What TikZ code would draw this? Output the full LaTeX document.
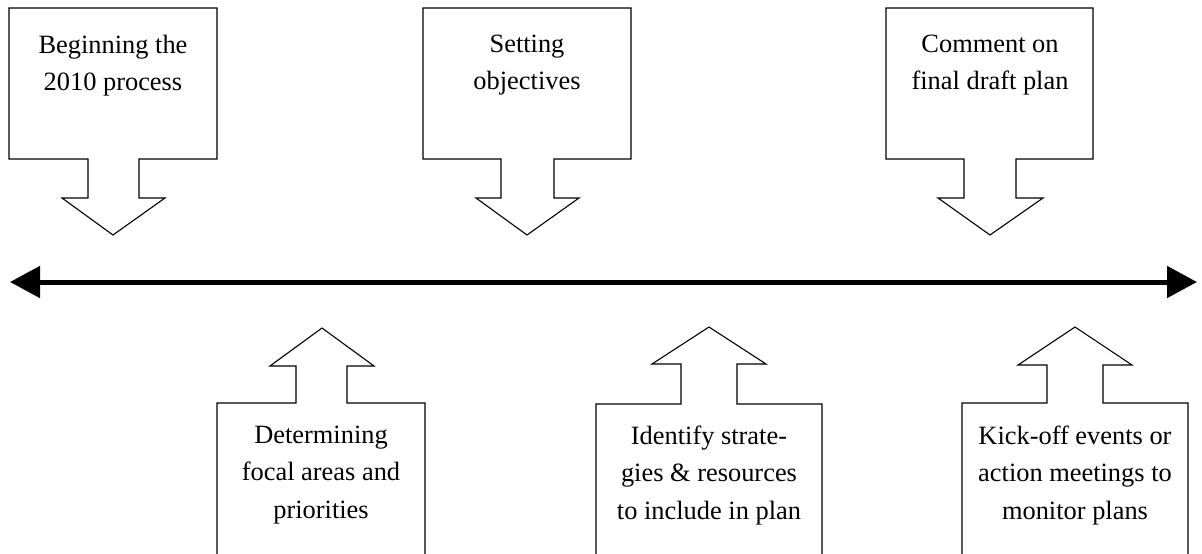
\documentclass[tikz,border=0pt]{standalone}
\usepackage{fontspec}
\setmainfont{Liberation Serif}
\usetikzlibrary{arrows.meta}
\tikzset{
  callout/.style={draw=black, line width=1.1pt, fill=white, line join=miter},
  label/.style={align=center, inner sep=0pt, anchor=north, font=\fontsize{26.4}{37.2}\selectfont},
  axis/.style={line width=5pt, {Triangle[length=30pt,width=31pt]}-{Triangle[length=30pt,width=31pt]}}
}
\begin{document}
\begin{tikzpicture}[x=1pt,y=-1pt]
\useasboundingbox (0,0) rectangle (1202,554);
\clip (0,0) rectangle (1202,554);
% main time line
\coordinate (L) at (10,282);
\coordinate (R) at (1197,282);
\draw[axis] (L) -- (R);
% top callouts
\draw[callout] (9,8) -- (217,8) -- (217,159) -- (139,159) -- (139,198) -- (165,198) -- (113,235) -- (62,198) -- (88,198) -- (88,159) -- (9,159) -- cycle;
\draw[callout] (423,8) -- (631,8) -- (631,159) -- (554,159) -- (554,198) -- (579,198) -- (527,235) -- (476,198) -- (501,198) -- (501,159) -- (423,159) -- cycle;
\draw[callout] (886,8) -- (1093,8) -- (1093,159) -- (1016,159) -- (1016,198) -- (1043,198) -- (990,235) -- (938,198) -- (964,198) -- (964,159) -- (886,159) -- cycle;
% bottom callouts
\draw[callout] (217,570) -- (217,403) -- (296,403) -- (296,366) -- (270,366) -- (322,328) -- (374,366) -- (347,366) -- (347,403) -- (425,403) -- (425,570);
\draw[callout] (596,570) -- (596,404) -- (681,404) -- (681,364) -- (652,364) -- (709,327) -- (766,364) -- (737,364) -- (737,404) -- (822,404) -- (822,570);
\draw[callout] (962,570) -- (962,403) -- (1047,403) -- (1047,365) -- (1018,365) -- (1075,327) -- (1132,365) -- (1103,365) -- (1103,403) -- (1188,403) -- (1188,570);
% texts
\node[label] (t1) at (113,35) {Beginning the\\2010 process};
\node[label] (t2) at (527,35) {Setting\\objectives};
\node[label] (t3) at (990,35) {Comment on\\final draft plan};
\node[label] (b1) at (321,426) {Determining\\focal areas and\\priorities};
\node[label] (b2) at (709,426) {Identify strate-\\gies \& resources\\to include in plan};
\node[label] (b3) at (1075,426) {Kick-off events or\\action meetings to\\monitor plans};
\end{tikzpicture}
\end{document}
